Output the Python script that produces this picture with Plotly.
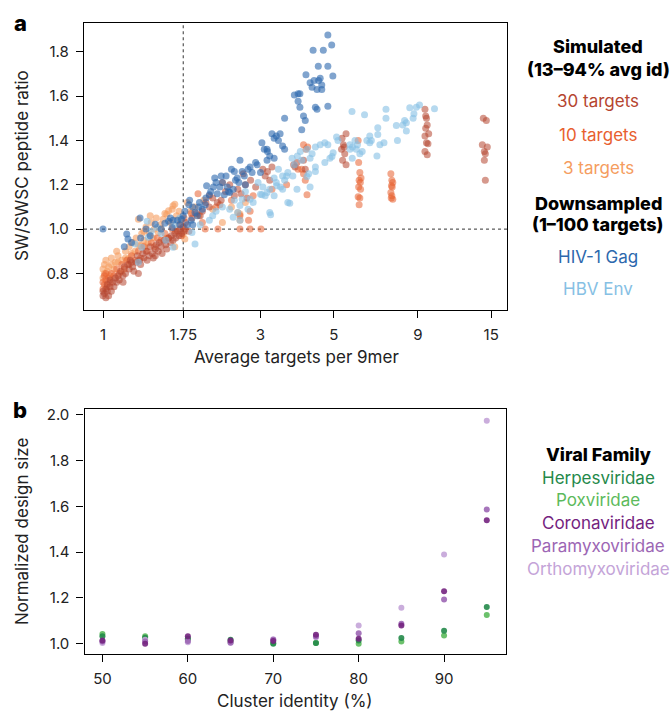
import plotly.graph_objects as go

W, H = 671, 712
FONT = "Inter"

# ---------------- Panel a data ----------------
sim30_x = [1.00,1.00,1.01,1.02,1.02,1.03,1.03,1.04,1.05,1.05,1.06,1.07,1.08,1.09,1.10,1.11,
           1.12,1.13,1.15,1.16,1.17,1.19,1.20,1.21,1.23,1.24,1.26,1.27,1.29,1.30,1.32,1.33,1.35,1.36,1.38,1.39,
           1.41,1.42,1.44,1.45,1.47,1.48,1.50,1.51,1.53,1.55,1.56,1.58,1.60,1.61,1.63,1.65,1.66,1.68,1.70,1.71,
           1.73,1.75,1.76,1.15,1.28,1.22,1.44,
           1.78,1.82,1.86,1.92,1.97,2.00,2.05,2.10,2.15,2.22,2.28,2.35,2.42,2.50,2.56,2.62,2.66,2.70,2.73,2.80,
           2.90,3.05,3.10,3.15,3.20,3.25,3.78,3.82,3.87,4.05,4.10,
           5.30,5.45,5.35,5.28,5.40,5.32,5.45,5.38,
           9.45,9.50,9.55,9.60,9.45,9.70,9.55,9.65,9.45,9.60,9.50,
           14.2,14.5,14.1,14.6,14.3,14.4,14.3,14.4]
sim30_y = [0.70,0.72,0.71,0.73,0.69,0.72,0.75,0.70,0.74,0.77,0.72,0.76,0.74,0.78,0.76,0.79,
           0.77,0.81,0.79,0.83,0.80,0.84,0.82,0.86,0.83,0.81,0.85,0.88,0.86,0.84,0.89,0.87,0.90,0.86,0.88,0.92,
           0.89,0.87,0.91,0.93,0.90,0.94,0.92,0.89,0.95,0.93,0.91,0.96,0.94,0.97,0.95,0.98,0.96,0.99,0.97,1.00,
           0.98,1.01,0.99,0.76,0.80,0.85,0.88,
           1.03,0.99,1.05,1.07,1.06,1.08,1.12,1.10,1.14,1.12,1.13,1.17,1.20,1.15,1.18,1.16,1.25,1.20,1.14,1.22,
           1.19,1.27,1.24,1.26,1.22,1.28,1.29,1.28,1.30,1.31,1.27,
           1.41,1.43,1.38,1.36,1.34,1.31,1.29,1.37,
           1.54,1.51,1.50,1.47,1.42,1.43,1.39,1.385,1.35,1.335,1.455,
           1.50,1.49,1.38,1.37,1.35,1.34,1.31,1.22]

sim10_x = [1.00,1.01,1.02,1.00,1.03,1.04,1.05,1.06,1.02,1.08,1.10,1.01,
           1.12,1.14,1.16,1.18,1.20,1.22,1.25,1.28,1.30,1.33,1.36,1.40,1.43,1.46,1.50,1.54,1.58,1.62,1.66,1.70,
           1.73,1.76,
           1.77,2.04,2.23,2.60,2.79,3.01,
           1.85,1.94,2.00,2.10,2.20,2.26,2.30,2.45,2.60,2.76,2.79,2.85,3.25,3.90,4.00,4.05,4.10,4.05,4.12,4.17,
           4.15,3.60,
           5.93,5.95,6.00,6.05,5.97,6.02,5.95,6.03,5.93,6.00,5.97,
           7.45,7.50,7.55,7.48,7.52,7.45,7.50,7.55,7.47]
sim10_y = [0.73,0.75,0.77,0.76,0.74,0.78,0.76,0.80,0.80,0.79,0.82,0.79,
           0.80,0.84,0.82,0.86,0.84,0.88,0.86,0.90,0.87,0.92,0.90,0.94,0.92,0.96,0.95,0.98,0.96,1.00,0.99,1.02,
           0.97,1.05,
           1.00,1.00,1.00,1.00,1.00,1.00,
           1.07,1.16,1.03,1.15,1.10,1.11,1.21,1.13,1.06,1.04,1.08,1.15,1.18,1.27,1.27,1.25,1.22,1.38,1.36,1.37,
           1.155,1.20,
           1.40,1.30,1.255,1.23,1.22,1.21,1.19,1.18,1.146,1.14,1.11,
           1.25,1.22,1.21,1.195,1.19,1.165,1.15,1.135,1.14]

sim3_x = [1.00,1.00,1.01,1.01,1.02,1.03,1.04,1.05,1.06,1.06,1.08,1.09,1.11,1.11,1.14,1.14,1.17,1.17,1.19,
          1.20,1.22,1.23,1.25,1.26,1.28,1.30,1.31,1.33,1.34,1.35,1.37,1.38,1.40,1.42,1.43,1.45,1.47,1.49,
          1.50,1.52,1.54,1.56,1.56,1.58,1.60,1.62,1.63,1.65,1.65,1.67,1.70,1.72,1.75,1.77,1.80,1.84,1.90,
          1.95,2.02,2.15,2.30,2.45,2.56,2.60,2.60,2.70,1.28,1.39,1.10,1.33]
sim3_y = [0.78,0.82,0.80,0.84,0.86,0.81,0.83,0.79,0.84,0.87,0.82,0.85,0.85,0.88,0.81,0.86,0.87,0.90,0.865,
          0.92,0.89,0.94,0.90,0.96,0.93,0.925,0.98,0.95,0.925,1.01,0.94,0.98,1.03,0.96,1.00,1.05,0.985,1.02,
          1.00,1.045,1.07,1.067,0.96,1.083,1.03,1.09,1.105,1.112,0.92,1.06,1.08,1.04,0.978,0.955,1.12,1.08,1.10,
          1.06,1.13,1.09,1.03,1.10,1.075,1.04,1.068,1.12,1.045,1.06,0.90,0.99]

hiv_x = [1.00,1.16,1.18,1.19,1.22,1.295,1.39,1.44,1.50,1.54,1.58,1.62,1.63,1.68,1.71,1.73,1.77,1.80,1.82,
         1.83,1.87,1.87,1.90,1.93,1.96,2.00,2.04,2.06,2.10,2.16,2.18,2.22,2.26,2.30,2.33,2.36,2.40,2.42,2.45,
         2.50,2.52,2.55,2.60,2.64,2.70,2.79,2.83,2.90,2.93,3.00,3.03,3.08,3.14,3.15,3.20,3.14,3.25,3.30,3.30,
         3.35,3.40,3.44,3.50,3.55,3.55,3.80,3.90,3.90,3.95,3.95,4.00,4.05,4.10,4.12,4.24,4.30,4.33,4.36,4.40,
         4.45,4.45,4.49,4.50,4.55,4.60,4.65,4.80,4.80,4.80,4.93,4.97,4.60,
         1.60,1.75,1.85,1.95,2.05,2.12,2.20,2.28,2.38,2.48,2.58,2.68,2.75,1.35,1.30]
hiv_y = [1.00,0.92,0.978,0.955,0.94,1.05,0.97,1.022,1.00,1.026,1.035,1.007,1.04,1.04,1.02,1.045,1.08,1.02,1.11,
         1.13,1.02,1.10,1.075,1.06,1.12,1.09,1.11,1.195,1.155,1.19,1.23,1.16,1.19,1.21,1.155,1.24,1.17,1.165,1.27,
         1.26,1.22,1.23,1.31,1.26,1.20,1.28,1.255,1.30,1.29,1.255,1.39,1.36,1.36,1.35,1.33,1.31,1.43,1.32,1.41,
         1.42,1.40,1.43,1.375,1.50,1.36,1.605,1.61,1.577,1.55,1.61,1.448,1.51,1.49,1.696,1.66,1.64,1.807,1.67,1.55,
         1.54,1.63,1.735,1.67,1.68,1.65,1.807,1.735,1.875,1.554,1.83,1.69,1.63,
         1.05,1.06,1.04,1.10,1.14,1.17,1.21,1.24,1.19,1.18,1.21,1.24,1.27,1.00,0.96]

hbv_x = [1.25,1.28,1.31,1.36,1.37,1.46,1.50,1.63,1.65,1.71,1.86,1.90,2.15,2.42,2.48,2.56,2.60,2.60,2.64,
         2.75,2.79,2.85,3.00,3.03,3.10,3.14,3.20,3.22,3.30,3.36,3.30,3.50,3.50,3.45,3.55,3.60,3.63,3.63,3.68,
         3.74,3.76,3.87,3.88,3.96,4.15,4.15,4.24,4.24,4.40,4.40,4.55,4.70,4.70,4.80,4.87,4.94,4.98,5.10,5.15,
         5.60,5.60,5.68,5.69,5.70,5.80,5.85,5.90,6.00,6.10,6.20,6.30,6.43,6.43,6.50,6.76,6.80,6.80,6.90,7.10,
         7.20,7.20,7.74,7.80,8.10,8.20,8.30,8.30,8.50,8.70,8.75,8.90,9.10,10.1,
         3.05,2.95,2.70,2.50,2.30,2.20,3.40,3.80,4.00,4.30,2.10,1.97,1.55,1.40,4.20,4.40,3.20,3.35]
hbv_y = [0.933,0.85,0.918,1.035,0.963,1.007,0.98,0.918,1.02,1.05,0.985,0.933,1.06,1.09,1.053,1.075,1.04,1.106,1.135,
         1.09,1.135,1.12,1.157,1.155,1.15,1.165,1.075,1.065,1.15,1.195,1.23,1.24,1.18,1.19,1.22,1.24,1.255,1.12,1.117,
         1.32,1.24,1.18,1.33,1.35,1.36,1.237,1.32,1.19,1.28,1.37,1.38,1.30,1.39,1.38,1.32,1.327,1.344,1.415,1.40,
         1.36,1.38,1.53,1.32,1.37,1.40,1.36,1.38,1.34,1.35,1.516,1.40,1.42,1.39,1.40,1.33,1.457,1.427,1.38,1.39,
         1.54,1.50,1.467,1.40,1.47,1.49,1.48,1.443,1.547,1.50,1.52,1.55,1.56,1.543,
         1.19,1.21,1.17,1.13,1.10,1.08,1.27,1.29,1.31,1.34,1.04,1.02,0.95,0.99,1.25,1.26,1.18,1.21]

a_xticks = [1, 1.75, 3, 5, 9, 15]
a_xticklabels = ["1", "1.75", "3", "5", "9", "15"]
a_yticks = [0.8, 1.0, 1.2, 1.4, 1.6, 1.8]
a_yticklabels = ["0.8", "1.0", "1.2", "1.4", "1.6", "1.8"]

# ---------------- Panel b data ----------------
cluster_identity = [50, 55, 60, 65, 70, 75, 80, 85, 90, 95]
herpes = [1.033, 1.026, 1.023, 1.017, 1.000, 1.003, 1.014, 1.025, 1.057, 1.161]
pox = [1.043, 1.033, 1.020, 1.008, 1.003, 1.003, 1.000, 1.010, 1.036, 1.126]
corona = [1.014, 1.000, 1.033, 1.014, 1.012, 1.039, 1.022, 1.080, 1.229, 1.540]
paramyxo = [1.010, 1.010, 1.012, 1.006, 1.017, 1.032, 1.046, 1.087, 1.193, 1.587]
orthomyxo = [1.003, 1.017, 1.007, 1.003, 1.020, 1.028, 1.080, 1.157, 1.390, 1.975]
b_xticks = [50, 60, 70, 80, 90]
b_yticks = [1.0, 1.2, 1.4, 1.6, 1.8, 2.0]
b_yticklabels = ["1.0", "1.2", "1.4", "1.6", "1.8", "2.0"]

C30, C10, C3 = "#b5452f", "#e8602f", "#f59d5f"
CHIV, CHBV = "#2c68ad", "#86c0e4"
CHER, CPOX, CCOR, CPAR, CORT = "#24894a", "#5cba5c", "#74237f", "#9c66b4", "#c4a4d8"

fig = go.Figure()

def scat(xs, ys, color, name, xa, ya, size, op):
    fig.add_trace(go.Scatter(x=xs, y=ys, mode="markers", name=name, xaxis=xa, yaxis=ya,
                             marker=dict(color=color, size=size, opacity=op, line=dict(width=0)),
                             showlegend=False))

scat(sim3_x, sim3_y, C3, "3 targets", "x", "y", 7, 0.6)
scat(sim10_x, sim10_y, C10, "10 targets", "x", "y", 7, 0.55)
scat(sim30_x, sim30_y, C30, "30 targets", "x", "y", 7, 0.55)
scat(hbv_x, hbv_y, CHBV, "HBV Env", "x", "y", 7, 0.6)
scat(hiv_x, hiv_y, CHIV, "HIV-1 Gag", "x", "y", 7, 0.6)

for vals, col, nm in [(pox, CPOX, "Poxviridae"), (herpes, CHER, "Herpesviridae"),
                      (orthomyxo, CORT, "Orthomyxoviridae"), (paramyxo, CPAR, "Paramyxoviridae"),
                      (corona, CCOR, "Coronaviridae")]:
    scat(cluster_identity, vals, col, nm, "x2", "y2", 6, 0.9)

def dom_x(a, b):
    return [a / W, b / W]

def dom_y(top, bottom):
    return [1 - bottom / H, 1 - top / H]

axis_common = dict(showline=True, mirror=True, linecolor="black", linewidth=1.3, ticks="outside",
                   ticklen=7, tickwidth=1.2, tickcolor="black", showgrid=False, zeroline=False,
                   tickfont=dict(family=FONT, size=15, color="#222"), ticklabelstandoff=4)

fig.update_layout(
    width=W, height=H, margin=dict(l=0, r=0, t=0, b=0),
    paper_bgcolor="white", plot_bgcolor="white",
    font=dict(family=FONT, color="#222"),
    xaxis=dict(type="log", range=[-0.0576, 1.224], domain=dom_x(84, 507), anchor="y",
               tickvals=a_xticks, ticktext=a_xticklabels, **axis_common),
    yaxis=dict(range=[0.634, 1.93], domain=dom_y(19, 308), anchor="x",
               tickvals=a_yticks, ticktext=a_yticklabels, **axis_common),
    xaxis2=dict(range=[47.9, 97.25], domain=dom_x(84.5, 506), anchor="y2",
                tickvals=b_xticks, **axis_common),
    yaxis2=dict(range=[0.956, 2.025], domain=dom_y(407.5, 653.5), anchor="x2",
                tickvals=b_yticks, ticktext=b_yticklabels, **axis_common),
)

fig.add_shape(type="line", xref="x", yref="y domain", x0=1.75, x1=1.75, y0=0, y1=1,
              line=dict(color="#333", width=1, dash="dot"), layer="below")
fig.add_shape(type="line", xref="x domain", yref="y", x0=0, x1=1, y0=1.0, y1=1.0,
              line=dict(color="#333", width=1, dash="dot"), layer="below")

def ann(text, px, py, size=17, color="#222", weight=400, angle=0, xanchor="center"):
    fig.add_annotation(text=text, x=px / W, y=1 - py / H,
                       xref="paper", yref="paper", showarrow=False, textangle=angle,
                       xanchor=xanchor, yanchor="middle",
                       font=dict(family=FONT, size=size, color=color, weight=weight))

ann("a", 20, 19, size=22, color="black", weight=800)
ann("b", 20, 408, size=22, color="black", weight=800)
ann("SW/SWSC peptide ratio", 22, 163, angle=-90)
ann("Average targets per 9mer", 296, 355)
ann("Normalized design size", 22, 531, angle=-90)
ann("Cluster identity (%)", 295, 701)

LX = 598
HB = 18
ann("Simulated", LX, 43, size=HB, color="black", weight=800)
ann("(13–94% avg id)", LX, 66, size=HB, color="black", weight=800)
ann("30 targets", LX, 98, color=C30)
ann("10 targets", LX, 132, color=C10)
ann("3 targets", LX, 165, color=C3)
ann("Downsampled", LX, 201, size=HB, color="black", weight=800)
ann("(1–100 targets)", LX, 222, size=HB, color="black", weight=800)
ann("HIV-1 Gag", LX, 254, color=CHIV)
ann("HBV Env", LX, 287, color=CHBV)

ann("Viral Family", LX, 453, size=HB, color="black", weight=800)
ann("Herpesviridae", LX, 477, color=CHER)
ann("Poxviridae", LX, 499, color=CPOX)
ann("Coronaviridae", LX, 522, color=CCOR)
ann("Paramyxoviridae", LX, 545, color=CPAR)
ann("Orthomyxoviridae", LX, 568, color=CORT)

fig.write_html("out.html")
